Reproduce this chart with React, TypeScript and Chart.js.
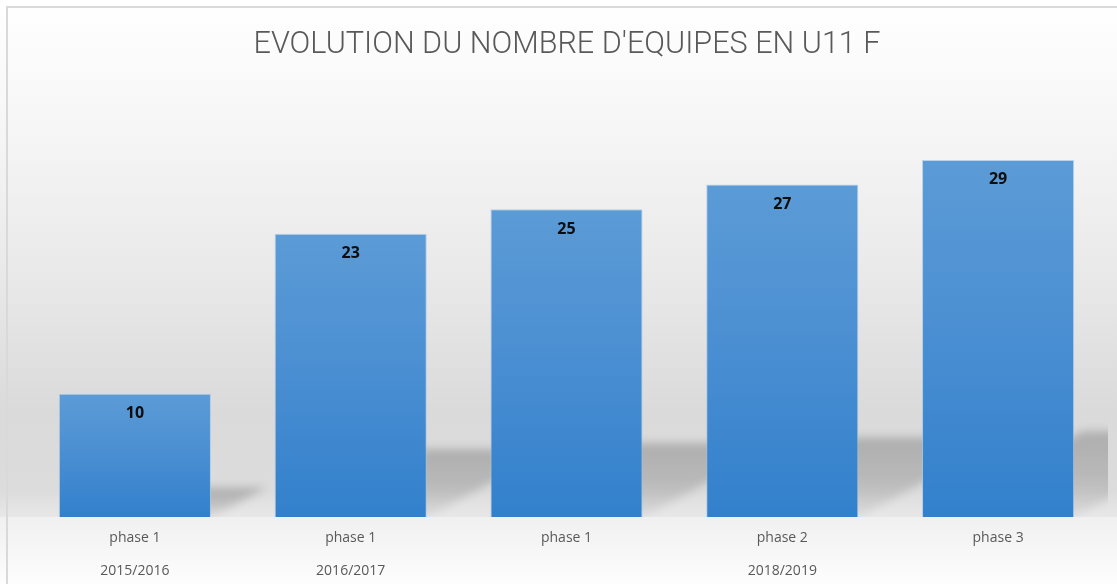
import React, { useEffect, useRef } from "react";
import { Chart, registerables } from "chart.js";

Chart.register(...registerables);

const titleText = "EVOLUTION DU NOMBRE D'EQUIPES EN U11 F";
const phases = ["phase 1", "phase 1", "phase 1", "phase 2", "phase 3"];
const seasons = ["2015/2016", "2016/2017", "2018/2019", "2018/2019", "2018/2019"];
const teams = [10, 23, 25, 27, 29];
const yMax = 35;

const backgroundPlugin = {
  id: "bgPlugin",
  beforeDraw(chart: any) {
    const { ctx, width, height } = chart;
    const base = chart.scales.y.getPixelForValue(0);
    ctx.save();
    const g = ctx.createLinearGradient(0, 0, 0, base);
    g.addColorStop(0, "#ffffff");
    g.addColorStop(0.2, "#f8f8f8");
    g.addColorStop(0.55, "#e8e8e8");
    g.addColorStop(0.8, "#dadada");
    g.addColorStop(0.95, "#dcdcdc");
    g.addColorStop(1, "#e8e8e8");
    ctx.fillStyle = g;
    ctx.fillRect(0, 0, width, base);
    const f = ctx.createLinearGradient(0, base, 0, height);
    f.addColorStop(0, "#f0f0f0");
    f.addColorStop(1, "#fdfdfd");
    ctx.fillStyle = f;
    ctx.fillRect(0, base, width, height - base);
    ctx.strokeStyle = "#d9d9d9";
    ctx.lineWidth = 2;
    ctx.beginPath();
    ctx.moveTo(7, height);
    ctx.lineTo(7, 7);
    ctx.lineTo(width, 7);
    ctx.stroke();
    // title
    ctx.fillStyle = "#595959";
    ctx.font = '300 31px Roboto';
    ctx.textAlign = "center";
    ctx.textBaseline = "middle";
    const w = ctx.measureText(titleText).width;
    const sx = 627 / w;
    ctx.translate(567, 45);
    ctx.scale(sx, 1);
    ctx.fillText(titleText, 0, 0);
    ctx.restore();
  },
};

const shadowPlugin = {
  id: "shadowPlugin",
  beforeDatasetsDraw(chart: any) {
    const { ctx, chartArea } = chart;
    const meta = chart.getDatasetMeta(0);
    ctx.save();
    ctx.beginPath();
    ctx.rect(chartArea.left, 0, chartArea.right + 2 - chartArea.left, chartArea.bottom);
    ctx.clip();
    ctx.filter = "blur(4px)";
    meta.data.forEach((el: any) => {
      const { x, y, base, width } = el.getProps(["x", "y", "base", "width"], true);
      const H = base - y;
      const h = 0.24 * H;
      const dx = 0.45 * H;
      const l = x - width / 2;
      const r = x + width / 2;
      const g = ctx.createLinearGradient(0, base - h, 0, base);
      g.addColorStop(0, "rgba(0,0,0,0.2)");
      g.addColorStop(0.5, "rgba(0,0,0,0.16)");
      g.addColorStop(1, "rgba(0,0,0,0.04)");
      ctx.fillStyle = g;
      ctx.beginPath();
      ctx.moveTo(l, base);
      ctx.lineTo(r, base);
      ctx.lineTo(r + dx, base - h);
      ctx.lineTo(l + dx, base - h);
      ctx.closePath();
      ctx.fill();
    });
    ctx.restore();
  },
};

const labelPlugin = {
  id: "labelPlugin",
  afterDatasetsDraw(chart: any) {
    const { ctx } = chart;
    const meta = chart.getDatasetMeta(0);
    ctx.save();
    ctx.fillStyle = "#0d0d0d";
    ctx.font = 'bold 16px "Open Sans"';
    ctx.textAlign = "center";
    ctx.textBaseline = "middle";
    meta.data.forEach((el: any, i: number) => {
      ctx.fillText(String(teams[i]), el.x, el.y + 20);
    });
    ctx.restore();
  },
};

const groupPlugin = {
  id: "groupPlugin",
  afterDraw(chart: any) {
    const { ctx } = chart;
    const xs = chart.scales.x;
    ctx.save();
    ctx.fillStyle = "#595959";
    ctx.font = '14px "Open Sans"';
    ctx.textAlign = "center";
    ctx.textBaseline = "middle";
    let start = 0;
    for (let i = 1; i <= seasons.length; i++) {
      if (i === seasons.length || seasons[i] !== seasons[start]) {
        const cx = (xs.getPixelForValue(start) + xs.getPixelForValue(i - 1)) / 2;
        ctx.fillText(seasons[start], cx, 571);
        start = i;
      }
    }
    ctx.restore();
  },
};

export default function App() {
  const ref = useRef<HTMLCanvasElement | null>(null);
  useEffect(() => {
    if (!ref.current) return;
    const chart = new Chart(ref.current, {
      type: "bar",
      data: {
        labels: phases,
        datasets: [
          {
            data: teams,
            barPercentage: 0.705,
            categoryPercentage: 1,
            borderWidth: 1,
            borderColor: "rgba(160,196,232,0.7)",
            backgroundColor: (c: any) => {
              const chartObj = c.chart;
              const ys = chartObj.scales && chartObj.scales.y;
              if (!ys || c.raw === undefined) return "#4a8fd3";
              const top = ys.getPixelForValue(c.raw);
              const bot = ys.getPixelForValue(0);
              if (!isFinite(top) || !isFinite(bot)) return "#4a8fd3";
              const g = chartObj.ctx.createLinearGradient(0, top, 0, bot);
              g.addColorStop(0, "#5b9bd6");
              g.addColorStop(0.4, "#4e91d3");
              g.addColorStop(1, "#3280cc");
              return g;
            },
          },
        ],
      },
      options: {
        animation: false,
        responsive: false,
        maintainAspectRatio: false,
        layout: { padding: { left: 27, right: 11, top: 86, bottom: 0 } },
        plugins: {
          legend: { display: false },
          title: { display: false },
          tooltip: { enabled: false },
        },
        scales: {
          x: {
            grid: { display: false, drawTicks: false },
            border: { display: false },
            ticks: {
              color: "#595959",
              font: { family: '"Open Sans"', size: 14 },
              padding: 13,
              maxRotation: 0,
              autoSkip: false,
            },
            afterFit: (s: any) => {
              s.height = 67;
            },
          },
          y: {
            display: false,
            min: 0,
            max: yMax,
          },
        },
      },
      plugins: [backgroundPlugin, shadowPlugin, labelPlugin, groupPlugin],
    });
    return () => chart.destroy();
  }, []);
  return (
    <div style={{ position: "absolute", left: 0, top: 0, width: 1117, height: 584 }}>
      <canvas ref={ref} width={1117} height={584} style={{ display: "block" }} />
    </div>
  );
}
